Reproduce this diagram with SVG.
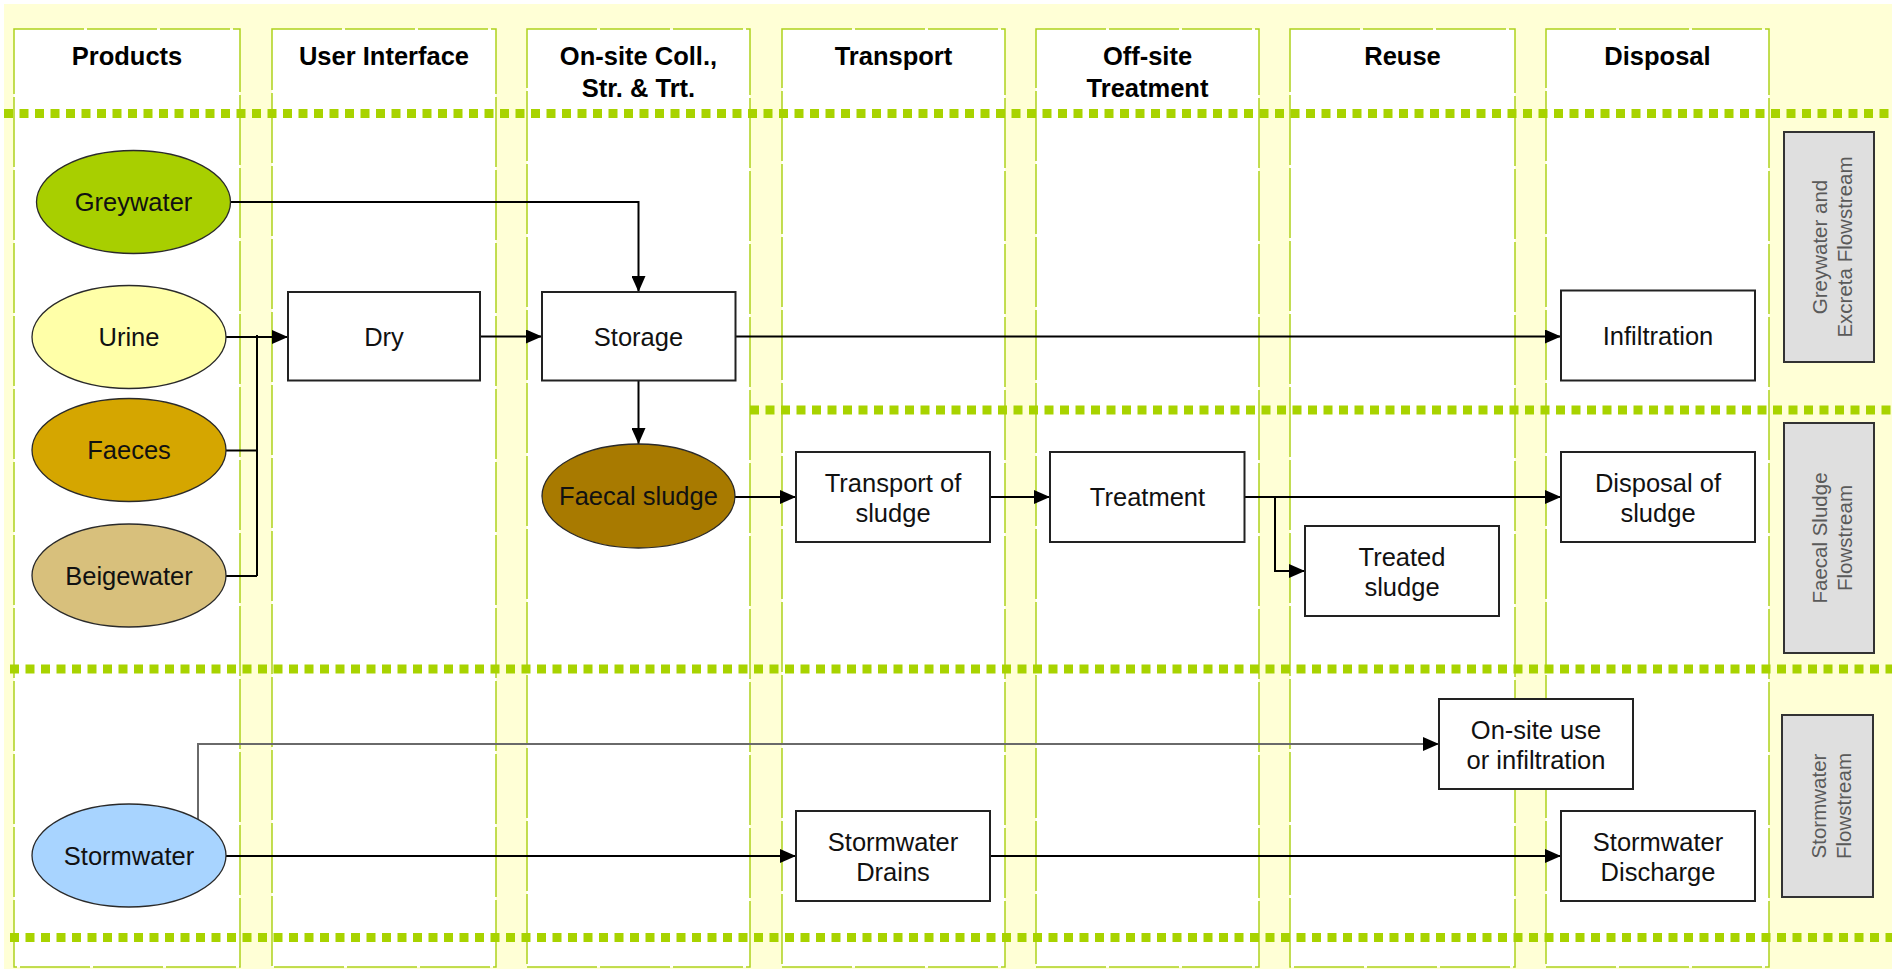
<svg xmlns="http://www.w3.org/2000/svg" width="1892" height="969" viewBox="0 0 1892 969">
<defs>
<marker id="arr" markerUnits="userSpaceOnUse" markerWidth="16" markerHeight="14" refX="16" refY="7" orient="auto">
<path d="M0,0 L16,7 L0,14 z" fill="#000"/>
</marker>
<style>
.col{fill:#fff;stroke:#aed21c;stroke-width:1.5;stroke-dasharray:70 3}
.dot{stroke:#a8d300;stroke-width:9;stroke-dasharray:9 6.5;fill:none}
.hd{font-family:"Liberation Sans",Arial,sans-serif;font-weight:bold;font-size:25.5px;fill:#000;text-anchor:middle}
.tx{font-family:"Liberation Sans",Arial,sans-serif;font-size:25.5px;fill:#111;text-anchor:middle}
.sd{font-family:"Liberation Sans",Arial,sans-serif;font-size:20.5px;fill:#5a5a5a;text-anchor:middle}
.box{fill:#fff;stroke:#222;stroke-width:2}
.ell{stroke:#2a2a2a;stroke-width:1.3}
.side{fill:#dfdfdf;stroke:#333;stroke-width:2}
.cn{fill:none;stroke:#000;stroke-width:2}
</style>
</defs>
<rect x="0" y="0" width="1892" height="969" fill="#fff"/>
<rect x="4" y="4" width="1888" height="965" fill="#ffffd6"/>

<g id="columns">
<rect class="col" x="14" y="29" width="226" height="938"/>
<rect class="col" x="272" y="29" width="224" height="938"/>
<rect class="col" x="527" y="29" width="223" height="938"/>
<rect class="col" x="782" y="29" width="223" height="938"/>
<rect class="col" x="1036" y="29" width="223" height="938"/>
<rect class="col" x="1290" y="29" width="225" height="938"/>
<rect class="col" x="1546" y="29" width="223" height="938"/>
</g>

<g id="headers">
<text class="hd" x="127" y="65">Products</text>
<text class="hd" x="384" y="65">User Interface</text>
<text class="hd" x="638.5" y="65">On-site Coll.,</text>
<text class="hd" x="638.5" y="97">Str. &amp; Trt.</text>
<text class="hd" x="893.5" y="65">Transport</text>
<text class="hd" x="1147.5" y="65">Off-site</text>
<text class="hd" x="1147.5" y="97">Treatment</text>
<text class="hd" x="1402.5" y="65">Reuse</text>
<text class="hd" x="1657.5" y="65">Disposal</text>
</g>

<g id="separators">
<line class="dot" x1="4" y1="113.5" x2="1892" y2="113.5"/>
<line class="dot" x1="750" y1="410" x2="1892" y2="410"/>
<line class="dot" x1="10" y1="669" x2="1892" y2="669"/>
<line class="dot" x1="10" y1="937.5" x2="1892" y2="937.5"/>
</g>

<g id="connectors">
<path class="cn" d="M230,202 H638.5 V292" marker-end="url(#arr)"/>
<path class="cn" d="M226,337 H288" marker-end="url(#arr)"/>
<path class="cn" d="M257,335 V576"/>
<path class="cn" d="M226,450.5 H257"/>
<path class="cn" d="M226,576 H257"/>
<path class="cn" d="M480,336.5 H542" marker-end="url(#arr)"/>
<path class="cn" d="M735.5,336.5 H1561" marker-end="url(#arr)"/>
<path class="cn" d="M638.5,380 V444" marker-end="url(#arr)"/>
<path class="cn" d="M735,497 H796" marker-end="url(#arr)"/>
<path class="cn" d="M990,497 H1050" marker-end="url(#arr)"/>
<path class="cn" d="M1244.5,497 H1561" marker-end="url(#arr)"/>
<path class="cn" d="M1275,497 V571 H1305" marker-end="url(#arr)"/>
<path class="cn" d="M198,819 V744 H1439" style="stroke:#6a6a6a" marker-end="url(#arr)"/>
<path class="cn" d="M226,856 H796" marker-end="url(#arr)"/>
<path class="cn" d="M990,856 H1561" marker-end="url(#arr)"/>
</g>

<g id="greywater">
<ellipse class="ell" cx="133.5" cy="202" rx="97" ry="51.5" fill="#a8cf00"/>
<text class="tx" x="133.5" y="211">Greywater</text>
</g>
<g id="urine">
<ellipse class="ell" cx="129" cy="337" rx="97" ry="51.5" fill="#ffffa8"/>
<text class="tx" x="129" y="346">Urine</text>
</g>
<g id="faeces">
<ellipse class="ell" cx="129" cy="450" rx="97" ry="51.5" fill="#d5a600"/>
<text class="tx" x="129" y="459">Faeces</text>
</g>
<g id="beigewater">
<ellipse class="ell" cx="129" cy="575.5" rx="97" ry="51.5" fill="#d8c07c"/>
<text class="tx" x="129" y="584.5">Beigewater</text>
</g>
<g id="stormwater">
<ellipse class="ell" cx="129" cy="855.5" rx="97" ry="51.5" fill="#a8d4ff"/>
<text class="tx" x="129" y="864.5">Stormwater</text>
</g>
<g id="faecal-sludge">
<ellipse class="ell" cx="638.5" cy="496" rx="96.5" ry="52" fill="#a87a00"/>
<text class="tx" x="638.5" y="505">Faecal sludge</text>
</g>

<g id="dry">
<rect class="box" x="288" y="292" width="192" height="88.5"/>
<text class="tx" x="384" y="345.5">Dry</text>
</g>
<g id="storage">
<rect class="box" x="542" y="292" width="193.5" height="88.5"/>
<text class="tx" x="638.5" y="345.5">Storage</text>
</g>
<g id="infiltration">
<rect class="box" x="1561" y="290.5" width="194" height="90"/>
<text class="tx" x="1658" y="345">Infiltration</text>
</g>
<g id="transport-of-sludge">
<rect class="box" x="796" y="452" width="194" height="90"/>
<text class="tx" x="893" y="491.5">Transport of</text>
<text class="tx" x="893" y="521.5">sludge</text>
</g>
<g id="treatment">
<rect class="box" x="1050" y="452" width="194.5" height="90"/>
<text class="tx" x="1147.5" y="506">Treatment</text>
</g>
<g id="disposal-of-sludge">
<rect class="box" x="1561" y="452" width="194" height="90"/>
<text class="tx" x="1658" y="491.5">Disposal of</text>
<text class="tx" x="1658" y="521.5">sludge</text>
</g>
<g id="treated-sludge">
<rect class="box" x="1305" y="526" width="194" height="90"/>
<text class="tx" x="1402" y="565.5">Treated</text>
<text class="tx" x="1402" y="595.5">sludge</text>
</g>
<g id="onsite-use">
<rect class="box" x="1439" y="699" width="194" height="90"/>
<text class="tx" x="1536" y="738.5">On-site use</text>
<text class="tx" x="1536" y="768.5">or infiltration</text>
</g>
<g id="stormwater-drains">
<rect class="box" x="796" y="811" width="194" height="90"/>
<text class="tx" x="893" y="850.5">Stormwater</text>
<text class="tx" x="893" y="880.5">Drains</text>
</g>
<g id="stormwater-discharge">
<rect class="box" x="1561" y="811" width="194" height="90"/>
<text class="tx" x="1658" y="850.5">Stormwater</text>
<text class="tx" x="1658" y="880.5">Discharge</text>
</g>

<g id="label-greywater-excreta">
<rect class="side" x="1784" y="132" width="90" height="230"/>
<text class="sd" transform="translate(1829,247) rotate(-90)"><tspan x="0" y="-2">Greywater  and</tspan><tspan x="0" y="23">Excreta Flowstream</tspan></text>
</g>
<g id="label-faecal-sludge">
<rect class="side" x="1784" y="423" width="90" height="230"/>
<text class="sd" transform="translate(1829,538) rotate(-90)"><tspan x="0" y="-2">Faecal Sludge</tspan><tspan x="0" y="23">Flowstream</tspan></text>
</g>
<g id="label-stormwater">
<rect class="side" x="1782" y="715" width="91" height="182"/>
<text class="sd" transform="translate(1827.5,806) rotate(-90)"><tspan x="0" y="-2">Stormwater</tspan><tspan x="0" y="23">Flowstream</tspan></text>
</g>
</svg>
